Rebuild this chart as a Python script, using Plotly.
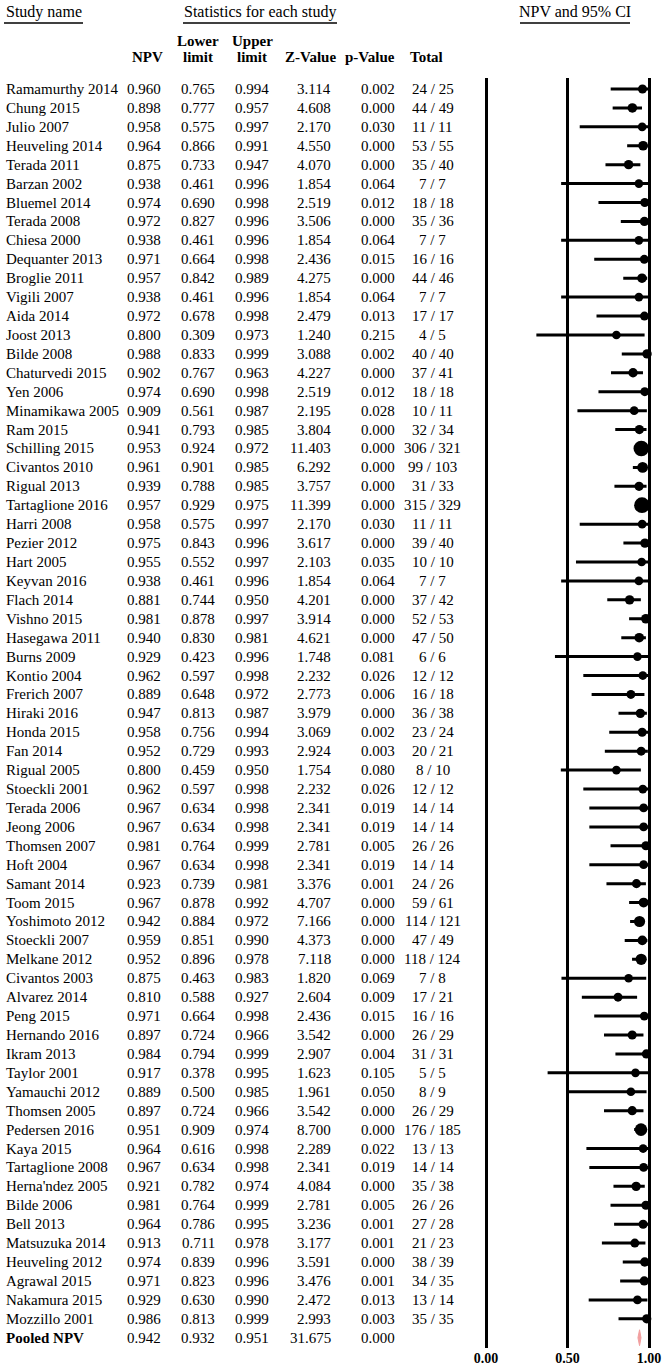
import plotly.graph_objects as go

studies = ["Ramamurthy 2014", "Chung 2015", "Julio 2007", "Heuveling 2014", "Terada 2011",
           "Barzan 2002", "Bluemel 2014", "Terada 2008", "Chiesa 2000", "Dequanter 2013",
           "Broglie 2011", "Vigili 2007", "Aida 2014", "Joost 2013", "Bilde 2008",
           "Chaturvedi 2015", "Yen 2006", "Minamikawa 2005", "Ram 2015", "Schilling 2015",
           "Civantos 2010", "Rigual 2013", "Tartaglione 2016", "Harri 2008", "Pezier 2012",
           "Hart 2005", "Keyvan 2016", "Flach 2014", "Vishno 2015", "Hasegawa 2011",
           "Burns 2009", "Kontio 2004", "Frerich 2007", "Hiraki 2016", "Honda 2015",
           "Fan 2014", "Rigual 2005", "Stoeckli 2001", "Terada 2006", "Jeong 2006",
           "Thomsen 2007", "Hoft 2004", "Samant 2014", "Toom 2015", "Yoshimoto 2012",
           "Stoeckli 2007", "Melkane 2012", "Civantos 2003", "Alvarez 2014", "Peng 2015",
           "Hernando 2016", "Ikram 2013", "Taylor 2001", "Yamauchi 2012", "Thomsen 2005",
           "Pedersen 2016", "Kaya 2015", "Tartaglione 2008", "Herna'ndez 2005", "Bilde 2006",
           "Bell 2013", "Matsuzuka 2014", "Heuveling 2012", "Agrawal 2015", "Nakamura 2015",
           "Mozzillo 2001"]

npv = [0.960, 0.898, 0.958, 0.964, 0.875, 0.938, 0.974, 0.972, 0.938, 0.971,
       0.957, 0.938, 0.972, 0.800, 0.988, 0.902, 0.974, 0.909, 0.941, 0.953,
       0.961, 0.939, 0.957, 0.958, 0.975, 0.955, 0.938, 0.881, 0.981, 0.940,
       0.929, 0.962, 0.889, 0.947, 0.958, 0.952, 0.800, 0.962, 0.967, 0.967,
       0.981, 0.967, 0.923, 0.967, 0.942, 0.959, 0.952, 0.875, 0.810, 0.971,
       0.897, 0.984, 0.917, 0.889, 0.897, 0.951, 0.964, 0.967, 0.921, 0.981,
       0.964, 0.913, 0.974, 0.971, 0.929, 0.986]

lower = [0.765, 0.777, 0.575, 0.866, 0.733, 0.461, 0.690, 0.827, 0.461, 0.664,
         0.842, 0.461, 0.678, 0.309, 0.833, 0.767, 0.690, 0.561, 0.793, 0.924,
         0.901, 0.788, 0.929, 0.575, 0.843, 0.552, 0.461, 0.744, 0.878, 0.830,
         0.423, 0.597, 0.648, 0.813, 0.756, 0.729, 0.459, 0.597, 0.634, 0.634,
         0.764, 0.634, 0.739, 0.878, 0.884, 0.851, 0.896, 0.463, 0.588, 0.664,
         0.724, 0.794, 0.378, 0.500, 0.724, 0.909, 0.616, 0.634, 0.782, 0.764,
         0.786, 0.711, 0.839, 0.823, 0.630, 0.813]

upper = [0.994, 0.957, 0.997, 0.991, 0.947, 0.996, 0.998, 0.996, 0.996, 0.998,
         0.989, 0.996, 0.998, 0.973, 0.999, 0.963, 0.998, 0.987, 0.985, 0.972,
         0.985, 0.985, 0.975, 0.997, 0.996, 0.997, 0.996, 0.950, 0.997, 0.981,
         0.996, 0.998, 0.972, 0.987, 0.994, 0.993, 0.950, 0.998, 0.998, 0.998,
         0.999, 0.998, 0.981, 0.992, 0.972, 0.990, 0.978, 0.983, 0.927, 0.998,
         0.966, 0.999, 0.995, 0.985, 0.966, 0.974, 0.998, 0.998, 0.974, 0.999,
         0.995, 0.978, 0.996, 0.996, 0.990, 0.999]

zval = ["3.114", "4.608", "2.170", "4.550", "4.070", "1.854", "2.519", "3.506", "1.854", "2.436",
        "4.275", "1.854", "2.479", "1.240", "3.088", "4.227", "2.519", "2.195", "3.804", "11.403",
        "6.292", "3.757", "11.399", "2.170", "3.617", "2.103", "1.854", "4.201", "3.914", "4.621",
        "1.748", "2.232", "2.773", "3.979", "3.069", "2.924", "1.754", "2.232", "2.341", "2.341",
        "2.781", "2.341", "3.376", "4.707", "7.166", "4.373", "7.118", "1.820", "2.604", "2.436",
        "3.542", "2.907", "1.623", "1.961", "3.542", "8.700", "2.289", "2.341", "4.084", "2.781",
        "3.236", "3.177", "3.591", "3.476", "2.472", "2.993"]

pval = ["0.002", "0.000", "0.030", "0.000", "0.000", "0.064", "0.012", "0.000", "0.064", "0.015",
        "0.000", "0.064", "0.013", "0.215", "0.002", "0.000", "0.012", "0.028", "0.000", "0.000",
        "0.000", "0.000", "0.000", "0.030", "0.000", "0.035", "0.064", "0.000", "0.000", "0.000",
        "0.081", "0.026", "0.006", "0.000", "0.002", "0.003", "0.080", "0.026", "0.019", "0.019",
        "0.005", "0.019", "0.001", "0.000", "0.000", "0.000", "0.000", "0.069", "0.009", "0.015",
        "0.000", "0.004", "0.105", "0.050", "0.000", "0.000", "0.022", "0.019", "0.000", "0.005",
        "0.001", "0.001", "0.000", "0.001", "0.013", "0.003"]

events = [24, 44, 11, 53, 35, 7, 18, 35, 7, 16, 44, 7, 17, 4, 40, 37, 18, 10, 32, 306,
          99, 31, 315, 11, 39, 10, 7, 37, 52, 47, 6, 12, 16, 36, 23, 20, 8, 12, 14, 14,
          26, 14, 24, 59, 114, 47, 118, 7, 17, 16, 26, 31, 5, 8, 26, 176, 13, 14, 35, 26,
          27, 21, 38, 34, 13, 35]
totals = [25, 49, 11, 55, 40, 7, 18, 36, 7, 16, 46, 7, 17, 5, 40, 41, 18, 11, 34, 321,
          103, 33, 329, 11, 40, 10, 7, 42, 53, 50, 6, 12, 18, 38, 24, 21, 10, 12, 14, 14,
          26, 14, 26, 61, 121, 49, 124, 8, 21, 16, 29, 31, 5, 9, 29, 185, 13, 14, 38, 26,
          28, 23, 39, 35, 14, 35]

pooled = {"npv": 0.942, "lower": 0.932, "upper": 0.951, "z": "31.675", "p": "0.000"}

W, H = 666, 1372
FONT = "Liberation Serif"
rows = list(range(1, len(studies) + 1))
pooled_row = len(studies) + 1

# pixel layout helpers
row0_px, row_step = 89, 18.92
top_px, bot_px = 78, 1348


def py(px):
    return 1 - px / H


def row_at(px):
    return 1 + (px - row0_px) / row_step


fig = go.Figure()

# CI whiskers
cx, cy = [], []
for r, lo, hi in zip(rows, lower, upper):
    cx += [lo, hi, None]
    cy += [r, r, None]
fig.add_trace(go.Scatter(x=cx, y=cy, mode="lines", line=dict(color="black", width=3),
                         hoverinfo="skip", showlegend=False))

# point estimates, size by study size
sizes = [8.5 + 0.022 * n for n in totals]
fig.add_trace(go.Scatter(x=npv, y=rows, mode="markers", opacity=1,
                         marker=dict(color="black", size=sizes, opacity=1,
                                     line=dict(color="black", width=0)),
                         showlegend=False))

# pooled diamond
hh = 0.42
fig.add_trace(go.Scatter(
    x=[pooled["lower"], pooled["npv"], pooled["upper"], pooled["npv"], pooled["lower"]],
    y=[pooled_row, pooled_row - hh, pooled_row, pooled_row + hh, pooled_row],
    mode="lines", fill="toself", fillcolor="#f2a0a0", line=dict(color="#f2a0a0", width=1),
    showlegend=False))

ann = []


def txt(x_px, y, s, anchor, bold=False, yref="y", size=15):
    ann.append(dict(x=x_px / W, xref="paper", y=y, yref=yref, text=f"<b>{s}</b>" if bold else s,
                    xanchor=anchor, yanchor="middle", showarrow=False,
                    font=dict(family=FONT, size=size, color="black")))


cols_right = [163, 217, 271, 333, 397]
for r, name, a, lo, hi, z, p, e, n in zip(rows, studies, npv, lower, upper, zval, pval, events, totals):
    txt(4, r, name, "left")
    for xp, v in zip(cols_right, [f"{a:.3f}", f"{lo:.3f}", f"{hi:.3f}", z, p]):
        txt(xp, r, v, "right")
    txt(433, r, f"{e} / {n}", "center")

txt(4, pooled_row, "Pooled NPV", "left", bold=True)
for xp, v in zip(cols_right, [f"{pooled['npv']:.3f}", f"{pooled['lower']:.3f}",
                              f"{pooled['upper']:.3f}", pooled["z"], pooled["p"]]):
    txt(xp, pooled_row, v, "right")

# headers
txt(4, py(12), "Study name", "left", yref="paper", size=16)
txt(260, py(12), "Statistics for each study", "center", yref="paper", size=16)
txt(575, py(12), "NPV and 95% CI", "center", yref="paper", size=16)
txt(198, py(41), "Lower", "center", bold=True, yref="paper")
txt(252, py(41), "Upper", "center", bold=True, yref="paper")
for xc, s in zip([147, 198, 252, 310, 370, 426], ["NPV", "limit", "limit", "Z-Value", "p-Value", "Total"]):
    txt(xc, py(57), s, "center", bold=True, yref="paper")

shapes = []
for x0, x1 in [(4, 83), (183, 337), (520, 630)]:
    shapes.append(dict(type="line", xref="paper", yref="paper", x0=x0 / W, x1=x1 / W,
                       y0=py(23), y1=py(23), line=dict(color="black", width=1.5)))

L = 486 - 0.1 * 163
fig.update_layout(
    width=W, height=H, margin=dict(l=0, r=0, t=0, b=0),
    paper_bgcolor="white", plot_bgcolor="white",
    annotations=ann, shapes=shapes,
    xaxis=dict(range=[-0.1, 1.1], domain=[L / W, (L + 1.2 * 163) / W],
               tickvals=[0, 0.5, 1], ticktext=["0.00", "0.50", "1.00"],
               showgrid=True, gridcolor="black", gridwidth=2.5, zeroline=False, showline=False,
               ticks="", tickfont=dict(family=FONT, size=14, color="black", weight="bold")),
    yaxis=dict(range=[row_at(bot_px), row_at(top_px)], domain=[py(bot_px), py(top_px)],
               showgrid=False, zeroline=False, showticklabels=False, showline=False),
)

# page has a default body margin; drop it so the figure sits at the window corner
fig.write_html("out.html", config={"displayModeBar": False},
               post_script="document.body.style.margin='0';")
